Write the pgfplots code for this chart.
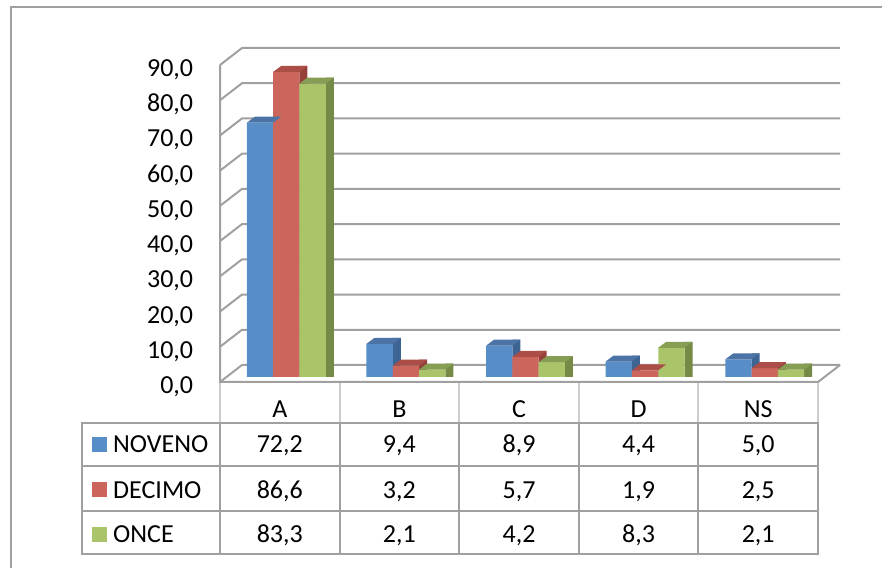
\documentclass[border=0pt]{standalone}
\usepackage{fontspec}
\setmainfont{Carlito}
\usepackage{pgfplots}
\usepackage{pgfplotstable}
\pgfplotsset{compat=1.18}

\definecolor{blueF}{RGB}{88,142,199}
\definecolor{blueT}{RGB}{76,115,166}
\definecolor{blueS}{RGB}{62,100,148}
\definecolor{redF}{RGB}{204,102,92}
\definecolor{redT}{RGB}{172,78,72}
\definecolor{redS}{RGB}{150,64,60}
\definecolor{greenF}{RGB}{170,196,106}
\definecolor{greenT}{RGB}{134,158,84}
\definecolor{greenS}{RGB}{116,138,70}
\definecolor{gridc}{RGB}{160,160,160}
\definecolor{hdrc}{RGB}{205,205,205}

% top faces of the 3d bars (one per series, offset like the bar shift)
\pgfdeclareplotmark{topN}{\pgfpathmoveto{\pgfpoint{-39.45pt}{0pt}}\pgfpathlineto{\pgfpoint{-13.15pt}{0pt}}\pgfpathlineto{\pgfpoint{-5.15pt}{6pt}}\pgfpathlineto{\pgfpoint{-31.45pt}{6pt}}\pgfpathclose\pgfusepathqfill}
\pgfdeclareplotmark{topD}{\pgfpathmoveto{\pgfpoint{-13.15pt}{0pt}}\pgfpathlineto{\pgfpoint{13.15pt}{0pt}}\pgfpathlineto{\pgfpoint{21.15pt}{6pt}}\pgfpathlineto{\pgfpoint{-5.15pt}{6pt}}\pgfpathclose\pgfusepathqfill}
\pgfdeclareplotmark{topO}{\pgfpathmoveto{\pgfpoint{13.15pt}{0pt}}\pgfpathlineto{\pgfpoint{39.45pt}{0pt}}\pgfpathlineto{\pgfpoint{47.45pt}{6pt}}\pgfpathlineto{\pgfpoint{21.15pt}{6pt}}\pgfpathclose\pgfusepathqfill}

\pgfplotstableread{
x noveno decimo once
0 72.2 86.6 83.3
1 9.4 3.2 2.1
2 8.9 5.7 4.2
3 4.4 1.9 8.3
4 5.0 2.5 2.1
}\datatable

\begin{document}
\begin{tikzpicture}[font=\fontsize{26}{31}\selectfont]
\useasboundingbox (0,0) rectangle (882pt,567pt);
\draw[gridc, line width=2pt] (11pt,-10pt) -- (11pt,560pt) -- (900pt,560pt);

\begin{axis}[
    at={(226.5pt,190pt)}, anchor=south west,
    scale only axis, width=598pt, height=317pt,
    xmin=-0.5, xmax=4.5, ymin=0, ymax=90,
    clip=false,
    axis line style={draw=none},
    xtick=\empty,
    ytick={0,10,...,90},
    major tick length=0pt,
    yticklabel style={
        /pgf/number format/fixed,
        /pgf/number format/fixed zerofill,
        /pgf/number format/precision=1,
        /pgf/number format/use comma,
        /pgf/number format/assume math mode=true,
        anchor=base east, inner sep=0pt,
        xshift=-33.2pt, yshift=-16.5pt,
        font=\fontsize{26}{31}\selectfont},
]
% back wall, side wall and floor
\pgfplotsinvokeforeach{0,10,...,90}{
  \draw[gridc, line width=2pt] ([shift={(-6.5pt,-5pt)}]axis cs:-0.5,#1)
     -- ([shift={(15.5pt,12pt)}]axis cs:-0.5,#1)
     -- ([shift={(15.5pt,12pt)}]axis cs:4.5,#1);
}
\draw[gridc, line width=2pt] ([shift={(-6.5pt,-5pt)}]axis cs:-0.5,90)
   -- ([shift={(-6.5pt,-5pt)}]axis cs:-0.5,0)
   -- ([shift={(-6.5pt,-5pt)}]axis cs:4.5,0)
   -- ([shift={(15.5pt,12pt)}]axis cs:4.5,0);

% NOVENO
\addplot[ybar, bar width=8pt, bar shift=-9.15pt, fill=blueS, draw=none]
  table[x=x, y expr=\thisrow{noveno}+1.7035]{\datatable};
\addplot[only marks, mark=topN, mark options={fill=blueT, draw=none}]
  table[x=x, y=noveno]{\datatable};
\addplot[ybar, bar width=26.3pt, bar shift=-26.3pt, fill=blueF, draw=none]
  table[x=x, y=noveno]{\datatable};
% DECIMO
\addplot[ybar, bar width=8pt, bar shift=17.15pt, fill=redS, draw=none]
  table[x=x, y expr=\thisrow{decimo}+1.7035]{\datatable};
\addplot[only marks, mark=topD, mark options={fill=redT, draw=none}]
  table[x=x, y=decimo]{\datatable};
\addplot[ybar, bar width=26.3pt, bar shift=0pt, fill=redF, draw=none]
  table[x=x, y=decimo]{\datatable};
% ONCE
\addplot[ybar, bar width=8pt, bar shift=43.45pt, fill=greenS, draw=none]
  table[x=x, y expr=\thisrow{once}+1.7035]{\datatable};
\addplot[only marks, mark=topO, mark options={fill=greenT, draw=none}]
  table[x=x, y=once]{\datatable};
\addplot[ybar, bar width=26.3pt, bar shift=26.3pt, fill=greenF, draw=none]
  table[x=x, y=once]{\datatable};
\end{axis}

% data table below the plot (image coordinates, y downwards)
\begin{scope}[x=1pt, y=-1pt, yshift=567pt]
  \foreach \x in {220,339.6,459.2,578.8,698.4,818}
    \draw[hdrc, line width=2pt] (\x,383) -- (\x,423);
  \foreach \y in {423,466.5,510.5,554}
    \draw[gridc, line width=2pt, line cap=rect] (82,\y) -- (818,\y);
  \foreach \x in {82,220,339.6,459.2,578.8,698.4,818}
    \draw[gridc, line width=2pt, line cap=rect] (\x,423) -- (\x,554);
  \foreach \c [count=\i from 0] in {A,B,C,D,NS}
    \node[anchor=base, inner sep=0pt] at (279.8+119.6*\i,418) {\c};
  \foreach \col/\name/\clr/\yb in {noveno/NOVENO/blueF/453, decimo/DECIMO/redF/498, once/ONCE/greenF/542.5} {
    \fill[\clr] (92,\yb-16) rectangle (107,\yb-1);
    \node[anchor=base west, inner sep=0pt] at (113,\yb) {\name};
    \foreach \i in {0,...,4} {
      \pgfplotstablegetelem{\i}{\col}\of\datatable
      \node[anchor=base, inner sep=0pt] at (279.8+119.6*\i,\yb)
        {\pgfmathprintnumber[fixed,fixed zerofill,precision=1,use comma,assume math mode=true]{\pgfplotsretval}};
    }
  }
\end{scope}
\end{tikzpicture}
\end{document}
